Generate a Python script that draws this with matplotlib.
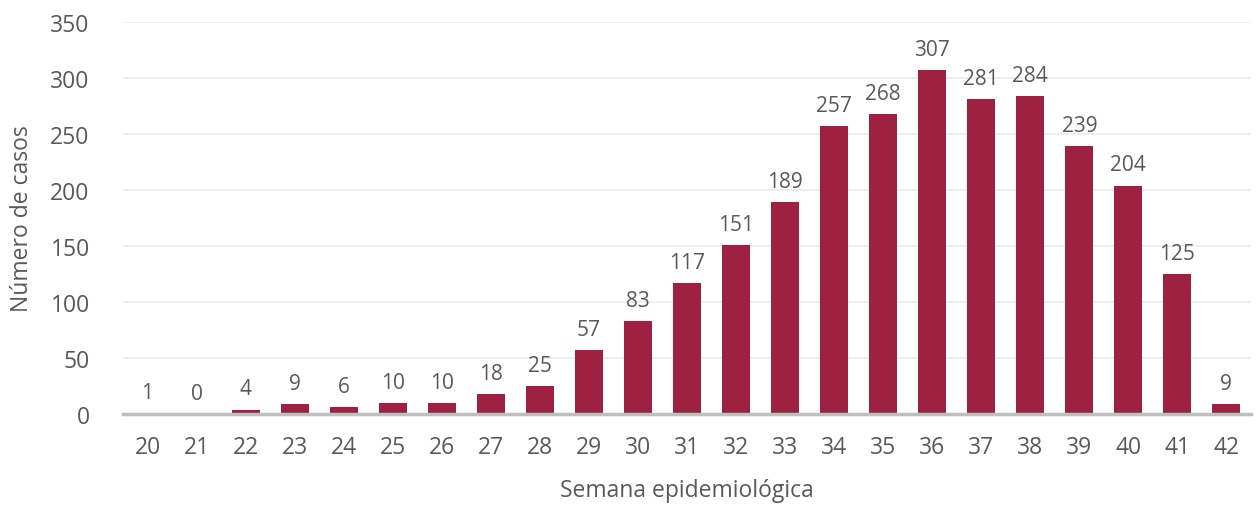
import matplotlib

matplotlib.use("Agg")

import matplotlib.pyplot as plt

WEEKS = [str(w) for w in range(20, 43)]
CASES = [1, 0, 4, 9, 6, 10, 10, 18, 25, 57, 83, 117, 151, 189, 257, 268, 307, 281, 284, 239, 204, 125, 9]

BAR_COLOR = "#9E2142"
TEXT_COLOR = "#595959"


def main() -> None:
    plt.rcParams["font.family"] = ["Open Sans", "DejaVu Sans"]

    fig = plt.figure(figsize=(12.58, 5.06), dpi=100, facecolor="white")
    ax = fig.add_axes([0.0978, 0.1798, 0.8966, 0.7747])

    x = range(len(WEEKS))
    ax.bar(x, CASES, width=0.57, color=BAR_COLOR, zorder=3)
    for xi, v in zip(x, CASES):
        ax.text(xi, v + 9, str(v), ha="center", va="bottom", fontsize=15, color=TEXT_COLOR)

    ax.set_xlim(-0.5, len(WEEKS) - 0.5)
    ax.set_ylim(0, 350)
    ax.set_yticks(range(0, 351, 50))
    ax.set_xticks(list(x))
    ax.set_xticklabels(WEEKS)
    ax.tick_params(axis="both", length=0, labelsize=16.5, labelcolor=TEXT_COLOR)
    ax.tick_params(axis="x", pad=15)
    ax.tick_params(axis="y", pad=24)

    ax.grid(axis="y", color="#EBEBEB", linewidth=1.2, zorder=0)
    for side in ["top", "right", "left"]:
        ax.spines[side].set_visible(False)
    ax.spines["bottom"].set_color("#BFBFBF")
    ax.spines["bottom"].set_linewidth(2.5)
    ax.spines["bottom"].set_zorder(4)

    ax.set_xlabel("Semana epidemiológica", fontsize=16.5, color=TEXT_COLOR, labelpad=14)
    ax.set_ylabel("Número de casos", fontsize=16.5, color=TEXT_COLOR, labelpad=12)

    fig.savefig("out.png", dpi=100, facecolor="white")
    plt.close(fig)


if __name__ == "__main__":
    main()
